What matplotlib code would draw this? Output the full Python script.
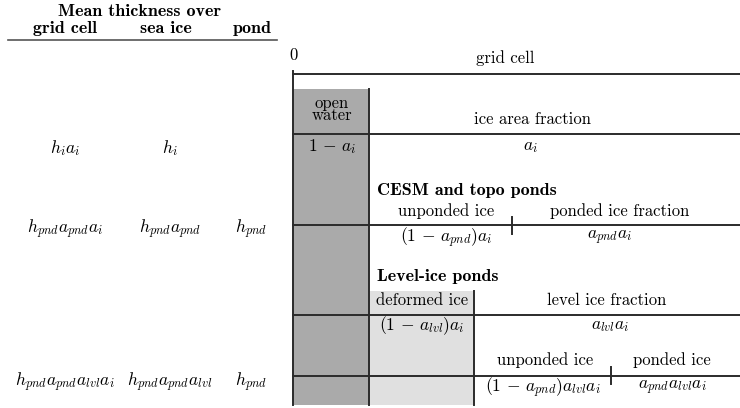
import matplotlib
matplotlib.use("Agg")
import matplotlib.pyplot as plt
from matplotlib.patches import Rectangle

plt.rcParams["mathtext.fontset"] = "cm"
plt.rcParams["font.family"] = ["cmr10", "DejaVu Serif"]

# Column headers and thickness expressions for each partition level
header_title = "Mean thickness over"
column_headers = ["grid cell", "sea ice", "pond"]
thickness_grid = [r"$h_ia_i$", r"$h_{pnd}a_{pnd}a_i$", r"$h_{pnd}a_{pnd}a_{lvl}a_i$"]
thickness_ice = [r"$h_i$", r"$h_{pnd}a_{pnd}$", r"$h_{pnd}a_{pnd}a_{lvl}$"]
thickness_pond = ["", r"$h_{pnd}$", r"$h_{pnd}$"]

# Area partition labels
open_water_label = "open\nwater"
ice_labels = ["ice area fraction", r"$1\,-\,a_i$", r"$a_i$"]
cesm_title = "CESM and topo ponds"
cesm_labels = ["unponded ice", "ponded ice fraction",
               r"$(1\,-\,a_{pnd})a_i$", r"$a_{pnd}a_i$"]
lvl_title = "Level-ice ponds"
lvl_labels = ["deformed ice", "level ice fraction",
              r"$(1\,-\,a_{lvl})a_i$", r"$a_{lvl}a_i$"]
lvl_pond_labels = ["unponded ice", "ponded ice",
                   r"$(1\,-\,a_{pnd})a_{lvl}a_i$", r"$a_{pnd}a_{lvl}a_i$"]

fig = plt.figure(figsize=(7.4, 4.08), dpi=100)
ax = fig.add_axes([0, 0, 1, 1])
ax.set_xlim(0, 740)
ax.set_ylim(408, 0)
ax.axis("off")

LC = "#2b2b2b"
LW = 1.4
FS = 12
BFS = 13
MFS = 12.6

# Header of the thickness table
ax.text(140, 15.5, header_title, family="cmb10", fontsize=BFS, ha="center", va="baseline")
for x, h in zip([65, 166, 252], column_headers):
    ax.text(x, 33, h, family="cmb10", fontsize=BFS, ha="center", va="baseline")
ax.plot([8, 277], [39.5, 39.5], color="#555555", lw=1.2)

# Thickness expressions per row
row_y = [148, 229, 382]
for y, g, s, p in zip(row_y, thickness_grid, thickness_ice, thickness_pond):
    ax.text(65, y, g, fontsize=MFS, ha="center", va="center")
    ax.text(170, y, s, fontsize=MFS, ha="center", va="center")
    if p:
        ax.text(251, y, p, fontsize=MFS, ha="center", va="center")

# Shaded areas: open water and deformed ice
ax.add_patch(Rectangle((293, 89), 76, 316, facecolor="#aaaaaa", edgecolor="none", zorder=0))
ax.add_patch(Rectangle((369, 291), 105, 114, facecolor="#e0e0e0", edgecolor="none", zorder=0))

# Axis and grid cell line
ax.text(293, 55, "0", fontsize=FS, ha="center", va="center")
ax.text(505, 58, "grid cell", fontsize=FS, ha="center", va="center")
ax.plot([293, 293], [71, 405], color=LC, lw=LW)
ax.plot([293, 740], [74, 74], color=LC, lw=LW)

# Open water / ice area fraction
ax.plot([369, 369], [89, 405], color=LC, lw=LW)
ax.text(332, 109, open_water_label, fontsize=FS, ha="center", va="center", linespacing=0.72)
ax.text(532, 119, ice_labels[0], fontsize=FS, ha="center", va="center")
ax.plot([293, 740], [134, 134], color=LC, lw=LW)
ax.text(332, 147, ice_labels[1], fontsize=MFS, ha="center", va="center")
ax.text(530, 147, ice_labels[2], fontsize=MFS, ha="center", va="center")

# CESM and topo ponds
ax.text(377, 190, cesm_title, family="cmb10", fontsize=BFS, ha="left", va="center")
ax.text(446, 211, cesm_labels[0], fontsize=FS, ha="center", va="center")
ax.text(620, 211, cesm_labels[1], fontsize=FS, ha="center", va="center")
ax.plot([293, 740], [224.5, 224.5], color=LC, lw=LW)
ax.plot([512, 512], [217, 234], color=LC, lw=LW)
ax.text(446, 238, cesm_labels[2], fontsize=MFS, ha="center", va="center")
ax.text(610, 238, cesm_labels[3], fontsize=MFS, ha="center", va="center")

# Level-ice ponds
ax.text(377, 277, lvl_title, family="cmb10", fontsize=BFS, ha="left", va="center")
ax.plot([474, 474], [291, 405], color=LC, lw=LW)
ax.text(422, 300, lvl_labels[0], fontsize=FS, ha="center", va="center")
ax.text(607, 300, lvl_labels[1], fontsize=FS, ha="center", va="center")
ax.plot([293, 740], [314.5, 314.5], color=LC, lw=LW)
ax.text(422, 326, lvl_labels[2], fontsize=MFS, ha="center", va="center")
ax.text(610, 326, lvl_labels[3], fontsize=MFS, ha="center", va="center")

ax.text(545, 360, lvl_pond_labels[0], fontsize=FS, ha="center", va="center")
ax.text(672, 360, lvl_pond_labels[1], fontsize=FS, ha="center", va="center")
ax.plot([293, 740], [376, 376], color=LC, lw=LW)
ax.plot([611, 611], [367, 384], color=LC, lw=LW)
ax.text(543, 388, lvl_pond_labels[2], fontsize=MFS, ha="center", va="center")
ax.text(672, 388, lvl_pond_labels[3], fontsize=MFS, ha="center", va="center")

fig.savefig("out.png", dpi=100, facecolor="white")
